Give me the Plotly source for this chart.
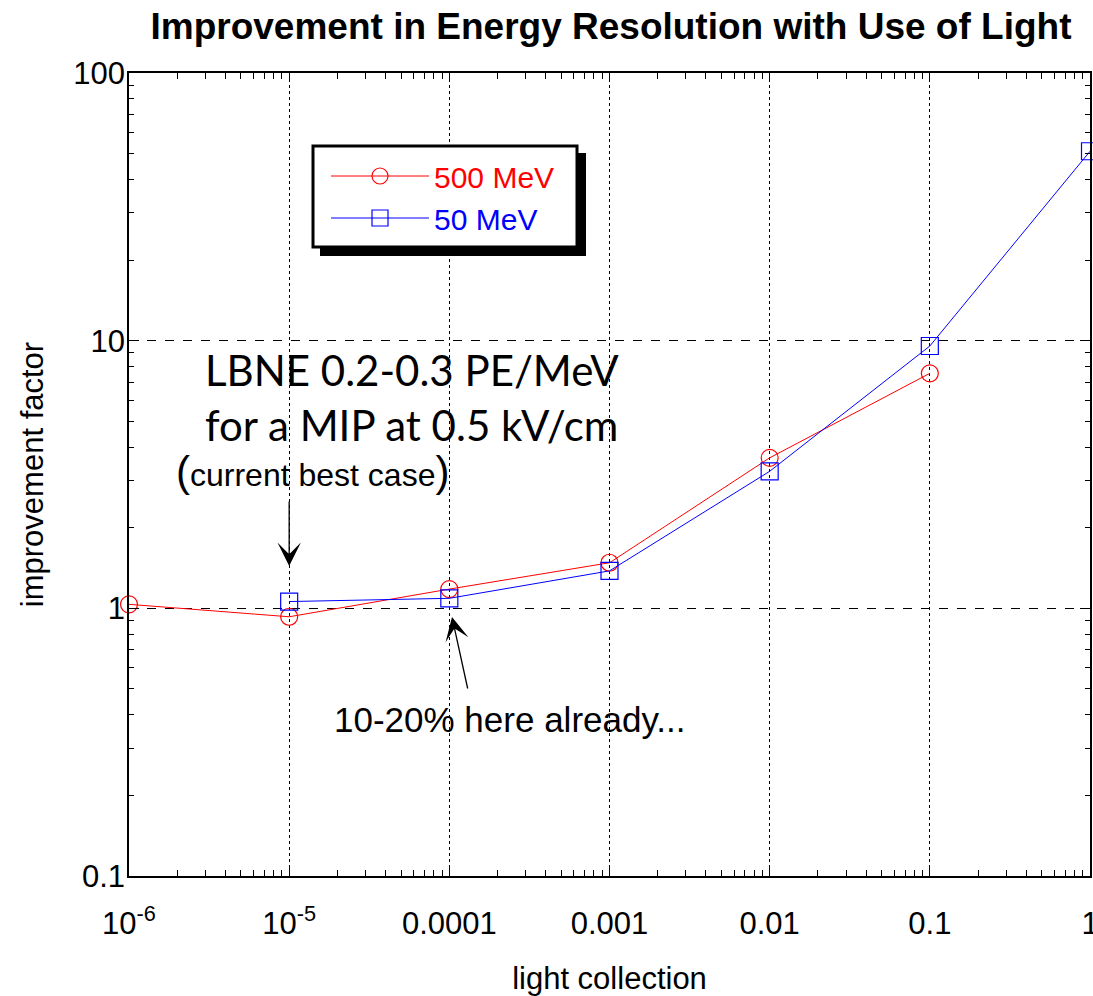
import plotly.graph_objects as go

# ---- data ----
x_500 = [1e-6, 1e-5, 1e-4, 1e-3, 1e-2, 1e-1]
y_500 = [1.035, 0.93, 1.18, 1.48, 3.65, 7.55]
x_50 = [1e-5, 1e-4, 1e-3, 1e-2, 1e-1, 1.0]
y_50 = [1.06, 1.09, 1.38, 3.25, 9.55, 51.0]

x_tickvals = [1e-6, 1e-5, 1e-4, 1e-3, 1e-2, 1e-1, 1]
x_ticktext = ["10<sup>-6</sup>", "10<sup>-5</sup>", "0.0001", "0.001", "0.01", "0.1", "1"]
y_tickvals = [0.1, 1, 10, 100]
y_ticktext = ["0.1", "1", "10", "100"]

W, H = 1093, 996
L, R, T, B = 129, 3, 73, 120
PW, PH = W - L - R, H - T - B


def xp(px):
    return (px - L) / PW


def yp(py):
    return (H - B - py) / PH


def lx(px):
    return -6 + (px - L) / (PW / 6)


def ly(py):
    return 2 - (py - T) / (PH / 3)


fig = go.Figure()
fig.add_trace(go.Scatter(
    x=x_500, y=y_500, mode="lines+markers",
    name="<span style='color:#ff0000'>500 MeV</span>",
    line=dict(color="#ff0000", width=1),
    marker=dict(symbol="circle-open", size=17, color="#ff0000", line=dict(width=1.2)),
    cliponaxis=False,
))
fig.add_trace(go.Scatter(
    x=x_50, y=y_50, mode="lines+markers",
    name="<span style='color:#0000ff'>50 MeV</span>",
    line=dict(color="#0000ff", width=1),
    marker=dict(symbol="square-open", size=17, color="#0000ff", line=dict(width=1.2)),
    cliponaxis=False,
))

# legend box with drop shadow
fig.add_shape(type="rect", xref="paper", yref="paper", layer="above",
              x0=xp(320), x1=xp(586), y0=yp(153), y1=yp(256),
              fillcolor="black", line=dict(width=0))
fig.add_shape(type="rect", xref="paper", yref="paper", layer="above",
              x0=xp(313), x1=xp(577), y0=yp(146), y1=yp(247),
              fillcolor="white", line=dict(color="black", width=3))

ann_font = dict(family="Liberation Sans, Arial, sans-serif", color="black")
annotations = [
    dict(xref="paper", yref="paper", x=xp(203), y=yp(398), xanchor="left", yanchor="middle",
         align="left", showarrow=False,
         text="LBNE 0.2-0.3 PE/MeV<br>for a MIP at 0.5 kV/cm",
         font=dict(family="Lato, Open Sans, sans-serif", size=42, color="black")),
    dict(xref="paper", yref="paper", x=xp(174), y=yp(471), xanchor="left", yanchor="middle",
         showarrow=False,
         text="<span style='font-size:42px'>(</span>current best case<span style='font-size:42px'>)</span>",
         font=dict(size=32, **ann_font)),
    dict(xref="paper", yref="paper", x=xp(510), y=yp(719), xanchor="center", yanchor="middle",
         showarrow=False, text="10-20% here already...",
         font=dict(size=35, **ann_font)),
    dict(x=-5, y=ly(566), ax=0, ay=-66, text="", showarrow=True,
         arrowhead=3, arrowsize=3, arrowwidth=1.3, arrowcolor="black"),
    dict(x=lx(452), y=ly(617), ax=16, ay=73, text="", showarrow=True,
         arrowhead=3, arrowsize=3, arrowwidth=1.3, arrowcolor="black"),
]

axis_font = dict(family="Liberation Sans, Arial, sans-serif", size=31, color="black")

fig.update_layout(
    width=W, height=H,
    margin=dict(l=L, r=R, t=T, b=B, autoexpand=False),
    paper_bgcolor="white", plot_bgcolor="white",
    title=dict(text="<b>Improvement in Energy Resolution with Use of Light</b>",
               x=(611) / W, xanchor="center", y=1 - 26 / H, yanchor="middle",
               font=dict(family="Liberation Sans, Arial, sans-serif",
                         size=37, color="black")),
    showlegend=True,
    legend=dict(x=xp(326), y=yp(150), xanchor="left", yanchor="top",
                bgcolor="rgba(0,0,0,0)", borderwidth=0,
                font=dict(family="Liberation Sans, Arial, sans-serif", size=30),
                itemwidth=98, tracegroupgap=0),
    annotations=annotations,
    xaxis=dict(
        type="log", range=[-6, 0],
        tickvals=x_tickvals, ticktext=x_ticktext,
        ticks="inside", ticklen=9, tickwidth=1, tickcolor="black",
        showline=True, linecolor="black", linewidth=1.5, mirror="allticks",
        showgrid=True, gridcolor="black", gridwidth=1, griddash="dot",
        minor=dict(ticks="inside", ticklen=6, tickcolor="black", dtick="D1", showgrid=False),
        tickfont=axis_font, ticklabelstandoff=19, ticklabeloverflow="allow",
        title=dict(text="light collection", font=axis_font, standoff=28),
        zeroline=False, automargin=False,
    ),
    yaxis=dict(
        type="log", range=[-1, 2],
        tickvals=y_tickvals, ticktext=y_ticktext,
        ticks="inside", ticklen=10, tickwidth=1, tickcolor="black",
        showline=True, linecolor="black", linewidth=1.5, mirror="allticks",
        showgrid=True, gridcolor="black", gridwidth=1, griddash="dash",
        minor=dict(ticks="inside", ticklen=5, tickcolor="black", dtick="D1", showgrid=False),
        tickfont=axis_font, ticklabelstandoff=-4, ticklabeloverflow="allow",
        title=dict(text="improvement factor", font=axis_font, standoff=20),
        zeroline=False, automargin=False,
    ),
)

fig.write_html("out.html", config={"displayModeBar": False},
               post_script="document.body.style.margin='0px';")
